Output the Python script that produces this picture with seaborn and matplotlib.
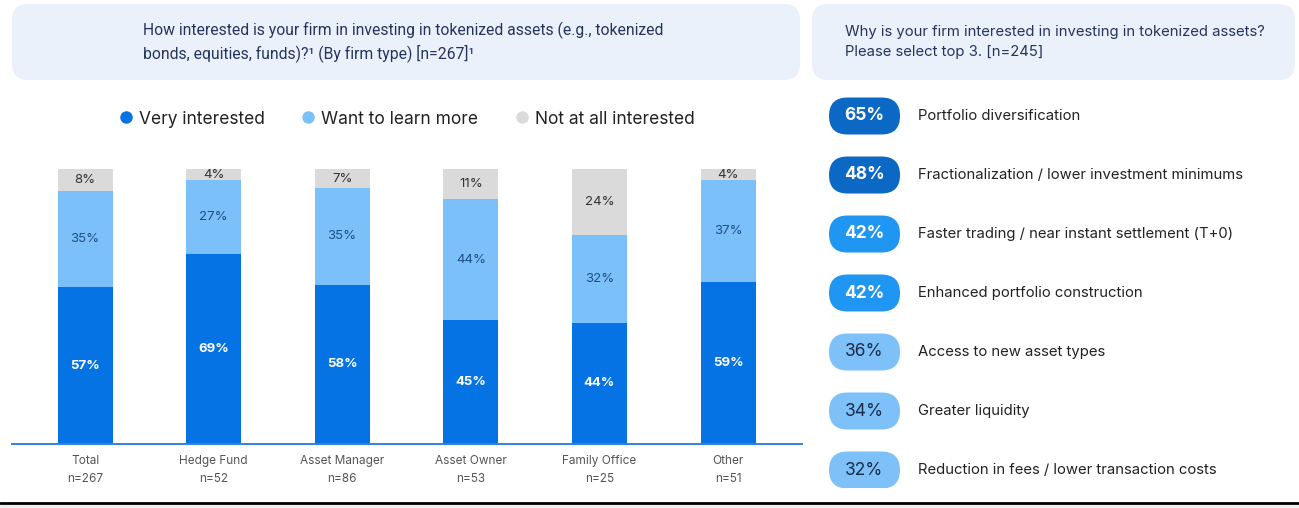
import matplotlib
matplotlib.use("Agg")
import matplotlib.pyplot as plt
from matplotlib.patches import FancyBboxPatch, Rectangle
from matplotlib.lines import Line2D
import pandas as pd
import seaborn as sns

# ---- data: interest in tokenized assets by firm type ----
firm_types = ["Total", "Hedge Fund", "Asset Manager", "Asset Owner", "Family Office", "Other"]
sample_sizes = ["n=267", "n=52", "n=86", "n=53", "n=25", "n=51"]
very_interested = [57, 69, 58, 45, 44, 59]
want_to_learn = [35, 27, 35, 44, 32, 37]
not_interested = [8, 4, 7, 11, 24, 4]
series_names = ["Very interested", "Want to learn more", "Not at all interested"]

# ---- data: reasons for interest (top 3) ----
reasons = [
    "Portfolio diversification",
    "Fractionalization / lower investment minimums",
    "Faster trading / near instant settlement (T+0)",
    "Enhanced portfolio construction",
    "Access to new asset types",
    "Greater liquidity",
    "Reduction in fees / lower transaction costs",
]
reason_pct = [65, 48, 42, 42, 36, 34, 32]

left_title = ("How interested is your firm in investing in tokenized assets (e.g., tokenized\n"
              "bonds, equities, funds)?\u00b9 (By firm type) [n=267]\u00b9")
right_title = "Why is your firm interested in investing in tokenized assets?\nPlease select top 3. [n=245]"

# ---- styling ----
DARK = "#0673E4"
LIGHT = "#7CC0FA"
GREY = "#DADADA"
NAVY = "#24345E"
BOX = "#EBF1FB"
PILL_DARK = "#0B68C4"
PILL_MID = "#1F96F2"
PILL_LIGHT = "#7DC1F8"

sns.set_theme(style="white")
plt.rcParams["font.family"] = ["Inter", "DejaVu Sans"]

W, H = 1299, 508
fig = plt.figure(figsize=(W / 100, H / 100), dpi=100)
fig.patch.set_facecolor("white")


def fx(px):
    return px / W


def fy(py):
    return 1 - py / H


# header boxes
for x0, x1 in [(12, 800), (812, 1295)]:
    fig.patches.append(FancyBboxPatch((fx(x0), fy(80)), fx(x1 - x0), (80 - 4) / H,
                                      boxstyle="round,pad=0,rounding_size=0.012",
                                      transform=fig.transFigure, facecolor=BOX,
                                      edgecolor="none", mutation_aspect=W / H, zorder=0))
fig.text(fx(143), fy(42), left_title, fontsize=11.3, color=NAVY, va="center", ha="left",
         linespacing=1.35, family=["Roboto", "DejaVu Sans"])
fig.text(fx(845), fy(42), right_title, fontsize=10.7, color=NAVY, va="center", ha="left",
         linespacing=1.5)

# bottom frame strip
fig.patches.append(Rectangle((0, 0), 1, (H - 504) / H, transform=fig.transFigure,
                             facecolor="#EFEFEF", edgecolor="none", zorder=0))
fig.lines.append(Line2D([0, 1], [fy(503), fy(503)], transform=fig.transFigure,
                        color="black", linewidth=2))

# ---- stacked bar chart ----
df = pd.DataFrame({"firm": firm_types, "very": very_interested,
                   "learn": want_to_learn, "not": not_interested})
df["lvl2"] = df["very"] + df["learn"]
df["lvl3"] = df["lvl2"] + df["not"]

ax = fig.add_axes([fx(12), fy(444), fx(790), (444 - 169) / H])
bw = 0.428
sns.barplot(data=df, x="firm", y="lvl3", color=GREY, width=bw, ax=ax, saturation=1)
sns.barplot(data=df, x="firm", y="lvl2", color=LIGHT, width=bw, ax=ax, saturation=1)
sns.barplot(data=df, x="firm", y="very", color=DARK, width=bw, ax=ax, saturation=1)
for p in ax.patches:
    p.set_edgecolor("none")

ax.set_xlim(-0.568, 5.575)
ax.set_ylim(0, 100)
ax.set_xlabel("")
ax.set_ylabel("")
ax.set_yticks([])
ax.set_xticks(range(len(firm_types)))
ax.set_xticklabels([f"{f}\n{n}" for f, n in zip(firm_types, sample_sizes)],
                   fontsize=8.5, color="#555555", linespacing=1.6)
ax.tick_params(axis="x", length=0, pad=8)
for s in ["top", "left", "right"]:
    ax.spines[s].set_visible(False)
ax.spines["bottom"].set_color("#2F80E6")
ax.spines["bottom"].set_linewidth(1.4)
ax.set_facecolor("none")

for i, row in df.iterrows():
    ax.text(i, row["very"] / 2, f"{row['very']}%", ha="center", va="center",
            color="white", fontsize=9.5, fontweight="bold")
    ax.text(i, row["very"] + row["learn"] / 2, f"{row['learn']}%", ha="center", va="center",
            color="#1F4E8C", fontsize=9.5)
    ax.text(i, row["lvl2"] + row["not"] / 2, f"{row['not']}%", ha="center", va="center",
            color="#333333", fontsize=9.5)

# legend
handles = [Line2D([], [], marker="o", linestyle="", markersize=9, markerfacecolor=c,
                  markeredgecolor="none") for c in [DARK, LIGHT, GREY]]
fig.legend(handles, series_names, loc="center", bbox_to_anchor=(fx(406), fy(119)),
           ncol=3, frameon=False, fontsize=12.5, handletextpad=0.25, handlelength=1.0,
           columnspacing=2.0, labelcolor="#222222")

# ---- reasons pills (axes in pixel units) ----
top, bottom = 86, 488
ax2 = fig.add_axes([fx(812), fy(bottom), fx(487), (bottom - top) / H])
ax2.set_xlim(0, 487)
ax2.set_ylim(bottom - top, 0)
ax2.axis("off")
row0, step = 30, 59
pill_x, pill_w, pill_h = 17, 71, 37
for i, (r, v) in enumerate(zip(reasons, reason_pct)):
    if v >= 45:
        fc, tc, fw = PILL_DARK, "white", "bold"
    elif v >= 40:
        fc, tc, fw = PILL_MID, "white", "bold"
    else:
        fc, tc, fw = PILL_LIGHT, "#1B2B4A", "normal"
    yc = row0 + i * step
    ax2.add_patch(FancyBboxPatch((pill_x, yc - pill_h / 2), pill_w, pill_h,
                                 boxstyle=f"round,pad=0,rounding_size={pill_h / 2}",
                                 facecolor=fc, edgecolor="none", clip_on=True))
    ax2.text(pill_x + pill_w / 2, yc, f"{v}%", ha="center", va="center", color=tc,
             fontsize=12.5, fontweight=fw)
    ax2.text(106, yc, r, ha="left", va="center", color="#222222", fontsize=10.7)

fig.savefig("out.png", dpi=100)
